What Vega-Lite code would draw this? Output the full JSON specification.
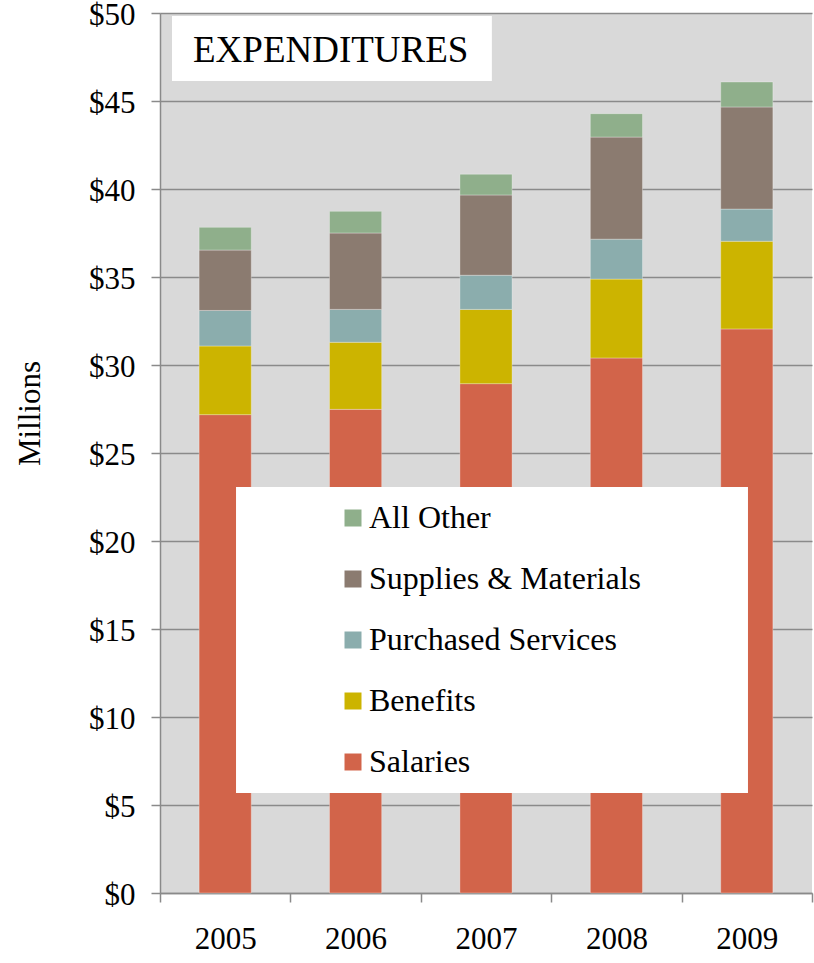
{
  "$schema": "https://vega.github.io/schema/vega-lite/v6.json",
  "width": 652,
  "height": 880,
  "autosize": "none",
  "padding": {"left": 160, "top": 13, "right": 2, "bottom": 70},
  "background": "white",
  "config": {
    "view": {"fill": "#D9D9D9", "stroke": null},
    "font": "Liberation Serif",
    "axis": {
      "labelFont": "Liberation Serif",
      "labelColor": "black",
      "labelFontSize": 31,
      "titleFont": "Liberation Serif",
      "titleFontSize": 31,
      "titleFontWeight": "normal",
      "titleColor": "black",
      "domainColor": "#8A8A8A",
      "domainWidth": 1.5,
      "tickColor": "#8A8A8A",
      "tickWidth": 1.5,
      "tickSize": 9
    },
    "legend": {
      "labelFont": "Liberation Serif",
      "labelFontSize": 32,
      "labelColor": "black",
      "labelLimit": 0
    }
  },
  "datasets": {
    "costs": [
      {"year": "2005", "category": "Salaries", "k": 1, "amount": 27.18},
      {"year": "2005", "category": "Benefits", "k": 2, "amount": 3.90},
      {"year": "2005", "category": "Purchased Services", "k": 3, "amount": 2.02},
      {"year": "2005", "category": "Supplies & Materials", "k": 4, "amount": 3.43},
      {"year": "2005", "category": "All Other", "k": 5, "amount": 1.29},
      {"year": "2006", "category": "Salaries", "k": 1, "amount": 27.48},
      {"year": "2006", "category": "Benefits", "k": 2, "amount": 3.81},
      {"year": "2006", "category": "Purchased Services", "k": 3, "amount": 1.87},
      {"year": "2006", "category": "Supplies & Materials", "k": 4, "amount": 4.34},
      {"year": "2006", "category": "All Other", "k": 5, "amount": 1.23},
      {"year": "2007", "category": "Salaries", "k": 1, "amount": 28.94},
      {"year": "2007", "category": "Benefits", "k": 2, "amount": 4.22},
      {"year": "2007", "category": "Purchased Services", "k": 3, "amount": 1.94},
      {"year": "2007", "category": "Supplies & Materials", "k": 4, "amount": 4.56},
      {"year": "2007", "category": "All Other", "k": 5, "amount": 1.18},
      {"year": "2008", "category": "Salaries", "k": 1, "amount": 30.40},
      {"year": "2008", "category": "Benefits", "k": 2, "amount": 4.48},
      {"year": "2008", "category": "Purchased Services", "k": 3, "amount": 2.27},
      {"year": "2008", "category": "Supplies & Materials", "k": 4, "amount": 5.80},
      {"year": "2008", "category": "All Other", "k": 5, "amount": 1.33},
      {"year": "2009", "category": "Salaries", "k": 1, "amount": 32.05},
      {"year": "2009", "category": "Benefits", "k": 2, "amount": 4.98},
      {"year": "2009", "category": "Purchased Services", "k": 3, "amount": 1.83},
      {"year": "2009", "category": "Supplies & Materials", "k": 4, "amount": 5.80},
      {"year": "2009", "category": "All Other", "k": 5, "amount": 1.42}
    ]
  },
  "layer": [
    {
      "data": {"name": "costs"},
      "mark": {"type": "bar", "width": {"band": 0.4}, "stroke": "white", "strokeWidth": 0.6, "strokeOpacity": 0.5},
      "encoding": {
        "x": {
          "field": "year",
          "type": "nominal",
          "scale": {"paddingInner": 0, "paddingOuter": 0},
          "axis": {
            "title": null,
            "labelAngle": 0,
            "tickBand": "extent",
            "labelPadding": 22,
            "grid": false
          }
        },
        "y": {
          "field": "amount",
          "type": "quantitative",
          "stack": "zero",
          "scale": {"domain": [0, 50], "nice": false},
          "axis": {
            "title": "Millions",
            "values": [0, 5, 10, 15, 20, 25, 30, 35, 40, 45, 50],
            "format": "$.0f",
            "labelPadding": 16,
            "labelOffset": 2,
            "grid": true,
            "gridColor": "#8A8A8A",
            "gridWidth": 1.5,
            "titleAngle": -90,
            "titleX": -130,
            "titleY": 400,
            "titleAlign": "center",
            "titleBaseline": "middle"
          }
        },
        "color": {
          "field": "category",
          "type": "nominal",
          "scale": {
            "domain": ["All Other", "Supplies & Materials", "Purchased Services", "Benefits", "Salaries"],
            "range": ["#8FAF8B", "#8B7B70", "#8BADAD", "#CCB400", "#D2644A"]
          },
          "legend": {
            "title": null,
            "orient": "none",
            "legendX": 177,
            "legendY": 489,
            "padding": 0,
            "symbolType": "square",
            "symbolSize": 289,
            "symbolStrokeWidth": 0,
            "symbolOpacity": 1,
            "rowPadding": 29,
            "labelOffset": 0
          }
        },
        "order": {"field": "k", "type": "quantitative", "sort": "ascending"}
      }
    },
    {
      "data": {"values": [{"box": "title"}]},
      "mark": {"type": "rect", "fill": "white"},
      "encoding": {
        "x": {"datum": 0.0184, "type": "quantitative", "scale": {"domain": [0, 1]}, "axis": null},
        "x2": {"datum": 0.509},
        "y": {"datum": 49.83, "type": "quantitative"},
        "y2": {"datum": 46.14}
      }
    },
    {
      "data": {"values": [{"box": "legend"}]},
      "mark": {"type": "rect", "fill": "white"},
      "encoding": {
        "x": {"datum": 0.1166, "type": "quantitative", "scale": {"domain": [0, 1]}, "axis": null},
        "x2": {"datum": 0.9018},
        "y": {"datum": 23.07, "type": "quantitative"},
        "y2": {"datum": 5.68}
      }
    },
    {
      "data": {"values": [{"label": "EXPENDITURES"}]},
      "mark": {"type": "text", "align": "left", "baseline": "alphabetic", "fontSize": 37, "font": "Liberation Serif", "color": "black"},
      "encoding": {
        "text": {"field": "label"},
        "x": {"datum": 0.0506, "type": "quantitative", "scale": {"domain": [0, 1]}, "axis": null},
        "y": {"datum": 47.23, "type": "quantitative"}
      }
    }
  ],
  "resolve": {"scale": {"x": "independent"}}
}
